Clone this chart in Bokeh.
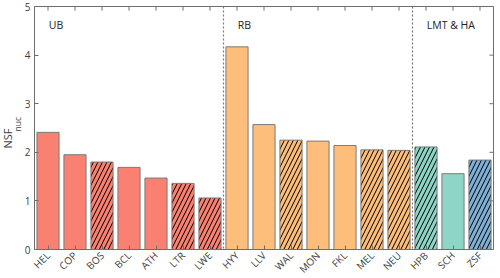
from math import pi
from bokeh.plotting import figure
from bokeh.models import Span, Label, Title, FixedTicker, Range1d, ColumnDataSource
from bokeh.embed import file_html
from bokeh.resources import INLINE

# ---- data ----
ub_sites = ["HEL", "COP", "BOS", "BCL", "ATH", "LTR", "LWE"]
ub_vals = [2.41, 1.95, 1.80, 1.69, 1.47, 1.36, 1.06]
rb_sites = ["HYY", "LLV", "WAL", "MON", "FKL", "MEL", "NEU"]
rb_vals = [4.17, 2.57, 2.25, 2.23, 2.14, 2.05, 2.04]
ha_sites = ["HPB", "SCH", "ZSF"]
ha_vals = [2.11, 1.56, 1.84]
hatched_sites = ["BOS", "LTR", "LWE", "WAL", "MEL", "NEU", "HPB", "ZSF"]
group_names = ["UB", "RB", "LMT & HA"]
y_ticks = [0, 1, 2, 3, 4, 5]
y_label_main = "NSF"
y_label_sub = "nuc"

# ---- styles ----
c_ub = "#FA8171"
c_rb = "#FDBE7B"
c_ha = "#8ED5C6"
c_zsf = "#7FAFD4"
FONT = "Open Sans"
TXT = "#404040"
FRAME = "#6e6e6e"

sites = ub_sites + rb_sites + ha_sites
vals = ub_vals + rb_vals + ha_vals
x = list(range(1, len(sites) + 1))
colors = [c_ub] * len(ub_sites) + [c_rb] * len(rb_sites) + [c_ha, c_ha, c_zsf]
hatch = ["/" if s in hatched_sites else " " for s in sites]

src = ColumnDataSource(dict(x=x, top=vals, color=colors, hatch=hatch))

x0, x1 = 0.5, len(sites) + 0.5
y0, y1 = y_ticks[0], y_ticks[-1]

p = figure(frame_width=459, frame_height=243, output_backend="svg",
           toolbar_location=None, x_range=Range1d(x0, x1),
           y_range=Range1d(y0, y1), min_border_left=0, min_border_top=6,
           min_border_right=7, min_border_bottom=0)
p.background_fill_color = "white"
p.border_fill_color = "white"
p.grid.visible = False
p.outline_line_color = FRAME
p.outline_line_width = 1

p.vbar(x="x", top="top", width=0.82, source=src, fill_color="color",
       line_color="#7a7a7a", line_width=1, hatch_pattern="hatch",
       hatch_color="black", hatch_scale=9, hatch_weight=1)

# mirrored inward ticks on top and right edges
tick_dy = 0.085
tick_dx = 0.15
p.segment(x0=x, y0=[y1] * len(x), x1=x, y1=[y1 - tick_dy] * len(x),
          line_color=FRAME, line_width=1)
p.segment(x0=[x1] * len(y_ticks), y0=y_ticks, x1=[x1 - tick_dx] * len(y_ticks),
          y1=y_ticks, line_color=FRAME, line_width=1)

# separators
b1 = len(ub_sites) + 0.5
b2 = len(ub_sites) + len(rb_sites) + 0.5
for loc in (b1, b2):
    p.add_layout(Span(location=loc, dimension="height", line_color="#777777",
                      line_dash="2 2", line_width=1.2))

# group labels
starts = [1, len(ub_sites) + 1, len(ub_sites) + len(rb_sites) + 1]
for name, s in zip(group_names, starts):
    p.add_layout(Label(x=s + 0.03, y=4.62, text=name, text_font=FONT,
                       text_font_size="10.5px", text_color="#222222",
                       text_baseline="middle", text_align="left"))

# axes
ax = p.xaxis[0]
ax.ticker = FixedTicker(ticks=x)
ax.major_label_overrides = {xi: s for xi, s in zip(x, sites)}
ax.major_label_orientation = pi / 4
ay = p.yaxis[0]
ay.ticker = FixedTicker(ticks=y_ticks)
for a in (ax, ay):
    a.axis_line_color = FRAME
    a.major_tick_line_color = FRAME
    a.major_tick_in = 4
    a.major_tick_out = 0
    a.minor_tick_line_color = None
    a.major_label_text_font = FONT
    a.major_label_text_font_size = "10px"
    a.major_label_text_color = TXT
    a.major_label_standoff = 4

# y axis label with subscript, as side titles in the left panel
p.add_layout(Title(text=y_label_sub, align="left", offset=118, standoff=-3,
                   text_font=FONT, text_font_size="8.5px", text_color=TXT,
                   text_font_style="normal", text_line_height=0.8), "left")
p.add_layout(Title(text=y_label_main, align="left", offset=101, standoff=-6,
                   text_font=FONT, text_font_size="11px", text_color=TXT,
                   text_font_style="normal", text_line_height=0.8), "left")

open("out.html", "w").write(file_html(p, INLINE))
